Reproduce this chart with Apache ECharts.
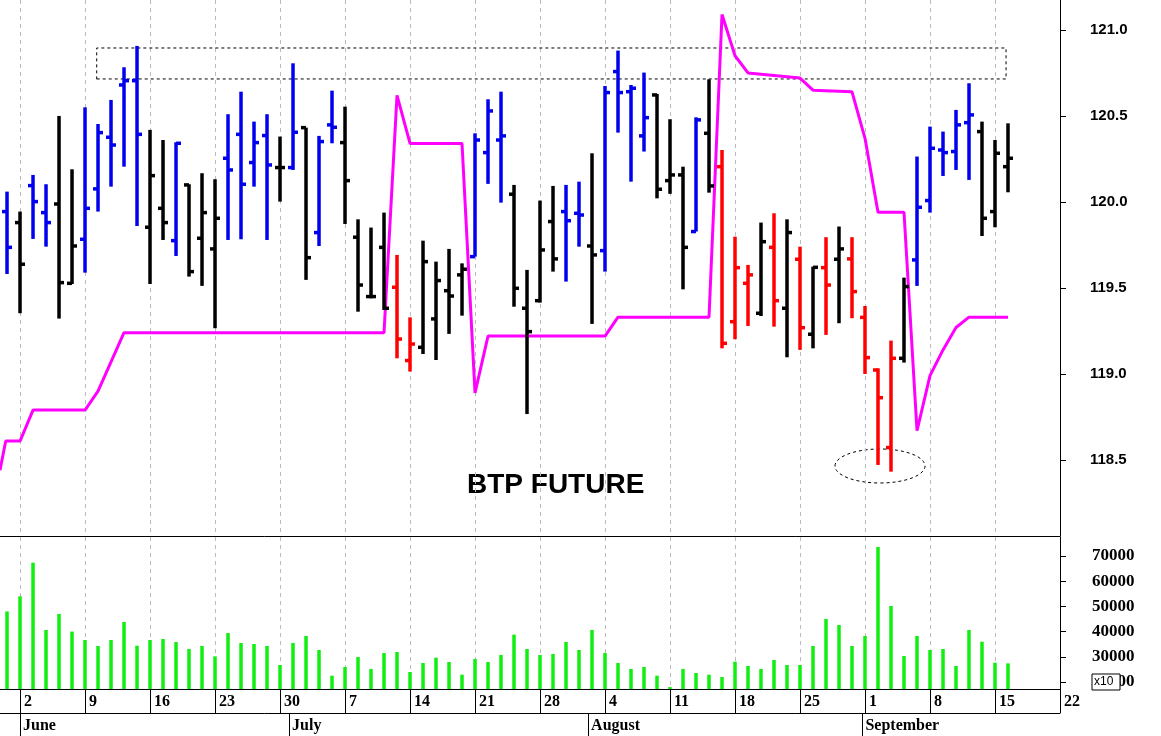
<!DOCTYPE html>
<html><head><meta charset="utf-8">
<script src="https://cdn.jsdelivr.net/npm/echarts@6/dist/echarts.min.js"></script>
<style>html,body{margin:0;padding:0;background:#fff}#c{width:1161px;height:736px}</style>
</head><body><div id="c"></div>
<script>
// day index: 0 = Mon 2 June; -1 = Fri 30 May
const dayIdx = Array.from({length:78},(_,i)=>i-1);
const highs=[120.060,119.944,120.157,120.103,120.500,120.190,120.550,120.453,120.593,120.783,120.907,120.419,120.360,120.347,120.103,120.167,120.132,120.510,120.641,120.467,120.510,120.380,120.806,120.432,120.384,120.647,120.554,119.899,119.851,119.938,119.692,119.329,119.775,119.653,119.727,119.643,120.399,120.597,120.641,120.099,119.605,120.008,120.093,120.099,120.118,120.283,120.674,120.880,120.680,120.752,120.628,120.481,120.205,120.492,120.713,120.302,119.798,119.634,119.880,119.934,119.899,119.740,119.624,119.795,119.857,119.795,119.395,119.033,119.194,119.560,120.264,120.438,120.409,120.535,120.690,120.467,120.360,120.457];
const lows=[119.581,119.353,119.785,119.740,119.322,119.523,119.589,119.944,120.089,120.205,119.860,119.523,119.779,119.686,119.566,119.512,119.266,119.779,119.783,120.089,119.779,120.002,120.186,119.547,119.744,120.341,119.872,119.362,119.440,119.372,119.091,119.014,119.116,119.081,119.233,119.339,119.682,120.105,119.996,119.391,118.767,119.415,119.595,119.537,119.740,119.291,119.595,120.403,120.118,120.293,120.021,120.047,119.492,119.828,120.054,119.149,119.202,119.279,119.337,119.275,119.097,119.140,119.149,119.227,119.295,119.324,119.000,118.471,118.432,119.066,119.512,119.938,120.151,120.186,120.128,119.802,119.853,120.056];
const opens=[119.944,119.880,120.095,119.938,119.988,119.527,119.783,120.076,120.376,120.680,120.705,119.853,119.963,119.775,120.099,119.789,119.727,120.254,120.393,120.229,120.386,120.200,120.200,120.432,119.822,120.448,120.345,119.795,119.450,119.736,119.504,119.078,119.155,119.320,119.484,119.576,119.682,120.287,120.360,120.045,119.382,119.426,119.886,119.944,119.934,119.744,119.717,120.758,120.641,120.384,120.622,120.124,120.157,119.828,120.399,120.205,119.304,119.527,119.353,119.736,119.382,119.667,119.231,119.618,119.667,119.669,119.329,119.023,118.572,119.091,119.663,120.008,120.302,120.293,120.461,120.409,119.944,120.205];
const closes=[119.736,119.638,120.002,119.880,119.531,119.744,119.963,120.403,120.331,120.705,120.393,120.153,119.880,120.341,119.595,119.938,119.905,120.186,120.103,120.345,120.215,120.200,120.405,119.676,120.351,120.434,120.124,119.517,119.450,119.382,119.203,119.174,119.653,119.543,119.453,119.609,120.360,120.529,120.384,119.498,119.246,119.721,119.669,119.891,119.924,119.692,120.636,120.636,120.661,120.490,120.074,120.157,119.736,120.477,120.093,119.178,119.618,119.576,119.769,119.426,119.822,119.269,119.620,119.517,119.727,119.479,119.095,118.862,119.091,119.508,119.969,120.312,120.287,120.448,120.506,119.905,120.283,120.254];
const barColors="bkbbkkbbbbbkkbkkkbbbbkbkbbkkkkrrkkkkbbbkkkkbbkbbbbkkkbkrrrkrkrkrkrrrrkbbbbbkkk";
const volumes=[48000,54000,67350,40630,47000,40000,36660,34280,36660,43800,34400,36660,37060,35870,33090,34280,30180,39440,35470,35080,34280,26740,35470,38250,32690,22510,25950,29910,25150,31500,31900,23960,27530,29650,27930,22900,29120,27930,30710,38780,33090,30710,31100,35870,32690,40630,31500,27530,25150,25950,22510,18000,25150,23560,22900,21980,28060,26340,25150,28720,26740,26740,34280,45000,42620,34280,38250,73570,50150,30310,38250,32690,33090,26340,40630,36000,27660,27400];
const stopDays=[-1.54,-1.1,-1,0,1,5,6,7,8,28,29,30,34,35,36,45,46,53,54,55,56,60,61,64,65,66,68,69,70,71,72,73,76];
const stopVals=[118.44,118.61,118.61,118.61,118.79,118.79,118.90,119.07,119.24,119.24,120.62,120.34,120.34,118.89,119.22,119.22,119.33,119.33,121.09,120.85,120.75,120.72,120.65,120.64,120.37,119.94,119.94,118.67,118.99,119.14,119.27,119.33,119.33];
const weekTicks=[0,5,10,15,20,25,30,35,40,45,50,55,60,65,70,75,80];
const weekLabels=['2','9','16','23','30','7','14','21','28','4','11','18','25','1','8','15','22'];
const monthTicks=[0,20.7,43.7,64.8];
const monthLabels=['June','July','August','September'];
const priceTicks=[118.5,119.0,119.5,120.0,120.5,121.0];
const volTicks=[20000,30000,40000,50000,60000,70000];

const colMap={b:'#0000ee',k:'#000000',r:'#ff0000'};
const ohlc=dayIdx.map((d,i)=>[d,opens[i],highs[i],lows[i],closes[i],i]);
const XMIN=-1.54, XMAX=80;
const chart=echarts.init(document.getElementById('c'));
const lab={fontFamily:'Liberation Serif',fontWeight:'bold',fontSize:16,color:'#000'};
const grid=[4,4];
chart.setOption({
 animation:false,
 grid:[{left:0,right:101,top:0,bottom:200},{left:0,right:101,top:537,bottom:47}],
 xAxis:[
  {type:'value',gridIndex:0,min:XMIN,max:XMAX,axisLine:{show:true,onZero:false,lineStyle:{color:'#000',width:1}},
   axisTick:{show:false,customValues:weekTicks},axisLabel:{show:false,customValues:weekTicks},
   splitLine:{show:true,lineStyle:{color:'#bbb',type:grid}}},
  {type:'value',gridIndex:1,min:XMIN,max:XMAX,position:'bottom',axisLine:{show:true,onZero:false,lineStyle:{color:'#000'}},
   axisTick:{show:true,length:24,customValues:weekTicks,lineStyle:{color:'#000'}},
   axisLabel:{show:true,customValues:weekTicks,formatter:v=>weekLabels[weekTicks.indexOf(v)]||'',align:'left',margin:5,padding:[0,0,0,4],...lab},
   splitLine:{show:true,lineStyle:{color:'#bbb',type:grid}}},
  {type:'value',gridIndex:1,min:XMIN,max:XMAX,position:'bottom',offset:24,axisLine:{show:true,onZero:false,lineStyle:{color:'#000'}},
   axisTick:{show:true,length:24,customValues:monthTicks,lineStyle:{color:'#000'}},
   axisLabel:{show:true,customValues:monthTicks,formatter:v=>monthLabels[monthTicks.indexOf(v)]||'',align:'left',margin:5,padding:[0,0,0,3],...lab},splitLine:{show:false}}
 ],
 yAxis:[
  {type:'value',gridIndex:0,position:'right',min:118.058,max:121.174,axisLine:{show:true,onZero:false,lineStyle:{color:'#000'}},
   axisTick:{show:true,customValues:priceTicks,length:6,lineStyle:{color:'#000'}},splitLine:{show:false},
   axisLabel:{customValues:priceTicks,formatter:v=>v.toFixed(1),fontFamily:'Liberation Sans',fontSize:15,fontWeight:'bold',color:'#000',margin:30}},
  {type:'value',gridIndex:1,position:'right',min:17220,max:77540,axisLine:{show:true,onZero:false,lineStyle:{color:'#000'}},
   axisTick:{show:true,customValues:volTicks,length:6,lineStyle:{color:'#000'}},splitLine:{show:false},
   axisLabel:{customValues:volTicks,formatter:v=>String(v),fontFamily:'Liberation Serif',fontSize:17,fontWeight:'bold',color:'#000',margin:32}}
 ],
 series:[
  {type:'custom',xAxisIndex:0,yAxisIndex:0,data:ohlc,clip:true,
   renderItem:(params,api)=>{
     const x=api.value(0),o=api.coord([x,api.value(1)]),h=api.coord([x,api.value(2)]),l=api.coord([x,api.value(3)]),c=api.coord([x,api.value(4)]);
     const col=colMap[barColors[api.value(5)]];
     const st={stroke:col,lineWidth:3.5};
     return {type:'group',children:[
       {type:'line',shape:{x1:h[0],y1:h[1],x2:l[0],y2:l[1]},style:st},
       {type:'line',shape:{x1:o[0]-5,y1:o[1],x2:o[0],y2:o[1]},style:st},
       {type:'line',shape:{x1:c[0],y1:c[1],x2:c[0]+5,y2:c[1]},style:st}]};
   },
   markArea:{silent:true,itemStyle:{color:'rgba(0,0,0,0)',borderColor:'#000',borderWidth:1,borderType:[3,3]},data:[[{xAxis:5.9,yAxis:120.715},{xAxis:75.85,yAxis:120.895}]]}},
  {type:'line',xAxisIndex:0,yAxisIndex:0,data:stopDays.map((d,i)=>[d,stopVals[i]]),symbol:'none',lineStyle:{color:'#ff00ff',width:3},z:1},
  {type:'bar',xAxisIndex:1,yAxisIndex:1,data:dayIdx.map((d,i)=>[d,volumes[i]]),barWidth:3.5,itemStyle:{color:'#11ee11'}}
 ],
 graphic:[
  {type:'text',left:467,top:471,style:{text:'BTP FUTURE',font:'bold 28px "Liberation Sans"',fill:'#000'}},
  {type:'ellipse',shape:{cx:880,cy:466,rx:45,ry:17},style:{fill:'none',stroke:'#000',lineWidth:1,lineDash:[3,3]}},
  {type:'rect',z:100,shape:{x:1092,y:674,width:28,height:16},style:{fill:'#fff',stroke:'#000',lineWidth:1}},
  {type:'text',z:101,left:1094,top:676,style:{text:'x10',font:'12px "Liberation Sans"',fill:'#000'}}
 ]
});
</script></body></html>
